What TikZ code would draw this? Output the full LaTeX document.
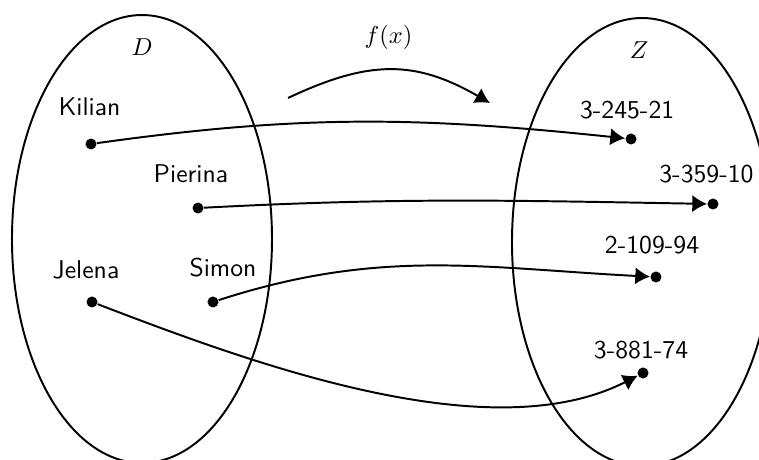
\documentclass[tikz,border=0pt]{standalone}
\usepackage{amsmath,amssymb}
\usepackage{tikz}
\usetikzlibrary{arrows.meta}

\tikzset{
  dotnode/.style={circle,fill=black,inner sep=0pt,minimum size=4.5pt},
  elemtext/.style={font=\sffamily\fontsize{10.5}{12}\selectfont,inner sep=0pt},
  maparrow/.style={thick,-{Latex[length=6pt,width=7pt]}}
}

\begin{document}
\begin{tikzpicture}[x=1cm,y=1cm]
\useasboundingbox (0,0) rectangle (10.905,-6.595);
\clip (0,0) rectangle (10.905,-6.595);
% the two sets
\draw[thick] (2.040,-3.434) ellipse (1.868 and 3.218);
\draw[thick] (9.224,-3.477) ellipse (1.868 and 3.218);
\node (setD) at (2.040,-0.675) {$D$};
\node (setZ) at (9.181,-0.718) {$Z$};
% the map
\node (fx) at (5.582,-0.539) {$f(x)$};
\coordinate (fs) at (4.138,-1.408);
\coordinate (fe) at (7.040,-1.480);
\draw[maparrow] (fs) .. controls (5.302,-0.859) and (5.963,-0.859) .. (fe);
% elements of D
\node[dotnode] (kilian) at (1.307,-2.069) {};
\node[elemtext] (kilianl) at (1.286,-1.537) {Kilian};
\node[dotnode] (pierina) at (2.845,-2.989) {};
\node[elemtext] (pierinal) at (2.744,-2.500) {Pierina};
\node[dotnode] (jelena) at (1.322,-4.339) {};
\node[elemtext] (jelenal) at (1.236,-3.879) {Jelena};
\node[dotnode] (simon) at (3.060,-4.339) {};
\node[elemtext] (simonl) at (3.204,-3.851) {Simon};
% elements of Z
\node[dotnode] (za) at (9.066,-1.997) {};
\node[elemtext] (zal) at (9.010,-1.580) {3-245-21};
\node[dotnode] (zb) at (10.244,-2.931) {};
\node[elemtext] (zbl) at (10.150,-2.500) {3-359-10};
\node[dotnode] (zc) at (9.425,-3.980) {};
\node[elemtext] (zcl) at (9.368,-3.520) {2-109-94};
\node[dotnode] (zd) at (9.239,-5.359) {};
\node[elemtext] (zdl) at (9.210,-5.029) {3-881-74};
% assignments
\draw[maparrow] (kilian) to[out=8,in=174] (za);
\draw[maparrow] (pierina) to[out=3,in=179] (zb);
\draw[maparrow] (simon) to[out=18,in=177] (zc);
\draw[maparrow] (jelena) to[out=-21,in=207,looseness=0.78] (zd);
\end{tikzpicture}
\end{document}
